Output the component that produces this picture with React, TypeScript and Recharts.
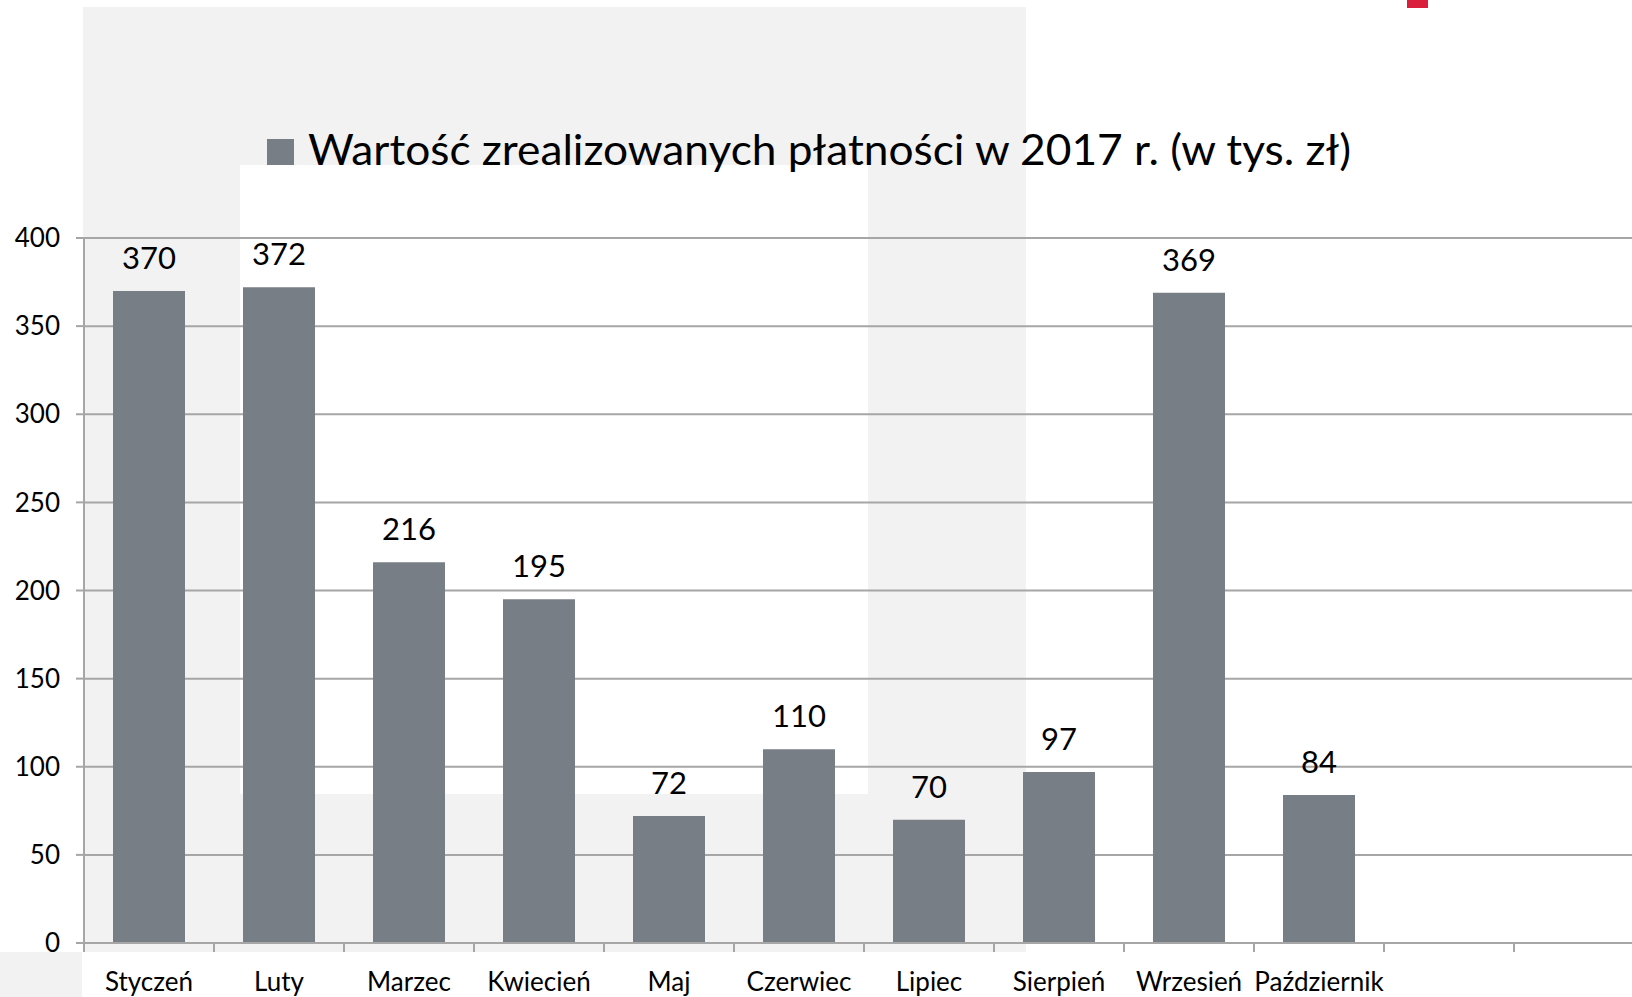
import { BarChart, Bar, XAxis, YAxis, CartesianGrid, Legend, LabelList } from "recharts";

// wartości płatności w tys. zł (listopad i grudzień bez danych)
const months = [
  "Styczeń",
  "Luty",
  "Marzec",
  "Kwiecień",
  "Maj",
  "Czerwiec",
  "Lipiec",
  "Sierpień",
  "Wrzesień",
  "Październik",
  "Listopad",
  "Grudzień",
];
const payments: (number | null)[] = [370, 372, 216, 195, 72, 110, 70, 97, 369, 84, null, null];
const yTicks = [0, 50, 100, 150, 200, 250, 300, 350, 400];
const seriesName = "Wartość zrealizowanych płatności w 2017 r. (w tys. zł)";

const data = months.map((month, i) => ({ month, value: payments[i] }));

const BAR_COLOR = "#787e85";
const LINE_COLOR = "#a6a6a6";
const FONT = "Lato, 'Open Sans', sans-serif";

const CHART_W = 1645;
const CHART_H = 997;
const Y_AXIS_W = 84;
const MARGIN = { top: 238, right: 1, bottom: 0, left: 0 };
const BAND = (CHART_W - Y_AXIS_W - MARGIN.left - MARGIN.right) / months.length;
const X_TICK_SIZE = 9;
const X_TICK_MARGIN = 21;

const MonthTick = (props: any) => {
  const { x, y, index, payload } = props;
  const axisY = y - X_TICK_SIZE - X_TICK_MARGIN;
  const label = payments[index] == null ? "" : payload.value;
  return (
    <g>
      <line x1={x - BAND / 2} x2={x - BAND / 2} y1={axisY} y2={axisY + X_TICK_SIZE} stroke={LINE_COLOR} strokeWidth={2} />
      {index === months.length - 1 && (
        <line x1={x + BAND / 2} x2={x + BAND / 2} y1={axisY} y2={axisY + X_TICK_SIZE} stroke={LINE_COLOR} strokeWidth={2} />
      )}
      <text x={x} y={y} dy="0.71em" textAnchor="middle" fontSize={26} fontFamily={FONT} fill="#000">
        {label}
      </text>
    </g>
  );
};

const renderLegend = () => (
  <svg width={1100} height={60} style={{ display: "block" }}>
    <rect x={7} y={19} width={27} height={26} fill={BAR_COLOR} />
    <text x={48} y={45} fontSize={42} fontFamily={FONT} fill="#000" textLength={1043} lengthAdjust="spacingAndGlyphs">
      {seriesName}
    </text>
  </svg>
);

export default function App() {
  return (
    <div
      style={{
        position: "absolute",
        left: 0,
        top: 0,
        width: 1632,
        height: 997,
        overflow: "hidden",
        background: "#fff",
        fontFamily: FONT,
      }}
    >
      {/* tło slajdu */}
      <div style={{ position: "absolute", left: 83, top: 7, width: 943, height: 945, background: "#f2f2f2" }} />
      <div style={{ position: "absolute", left: 240, top: 165, width: 628, height: 629, background: "#fff" }} />
      <div style={{ position: "absolute", left: 0, top: 952, width: 82, height: 45, background: "#f2f2f2" }} />
      <div style={{ position: "absolute", left: 1407, top: 0, width: 21, height: 8, background: "#d91f3b" }} />

      <div style={{ position: "absolute", left: 0, top: 0 }}>
        <BarChart width={CHART_W} height={CHART_H} data={data} margin={MARGIN}>
          <CartesianGrid vertical={false} stroke={LINE_COLOR} strokeWidth={2} />
          <XAxis
            dataKey="month"
            interval={0}
            height={CHART_H - 943}
            tickSize={X_TICK_SIZE}
            tickMargin={X_TICK_MARGIN}
            tickLine={false}
            axisLine={{ stroke: LINE_COLOR, strokeWidth: 2 }}
            tick={<MonthTick />}
          />
          <YAxis
            width={Y_AXIS_W}
            domain={[0, 400]}
            ticks={yTicks}
            interval={0}
            tickSize={8}
            tickMargin={16}
            tickLine={{ stroke: LINE_COLOR, strokeWidth: 2 }}
            axisLine={{ stroke: LINE_COLOR, strokeWidth: 2 }}
            tick={{ fontSize: 26, fill: "#000", fontFamily: FONT }}
          />
          <Legend
            verticalAlign="middle"
            align="center"
            content={renderLegend}
            wrapperStyle={{ top: 120, left: 260, width: 1100, height: 60 }}
          />
          <Bar dataKey="value" name={seriesName} fill={BAR_COLOR} barSize={72} isAnimationActive={false}>
            <LabelList dataKey="value" position="top" offset={22} fontSize={31} fill="#000" fontFamily={FONT} />
          </Bar>
        </BarChart>
      </div>
    </div>
  );
}
